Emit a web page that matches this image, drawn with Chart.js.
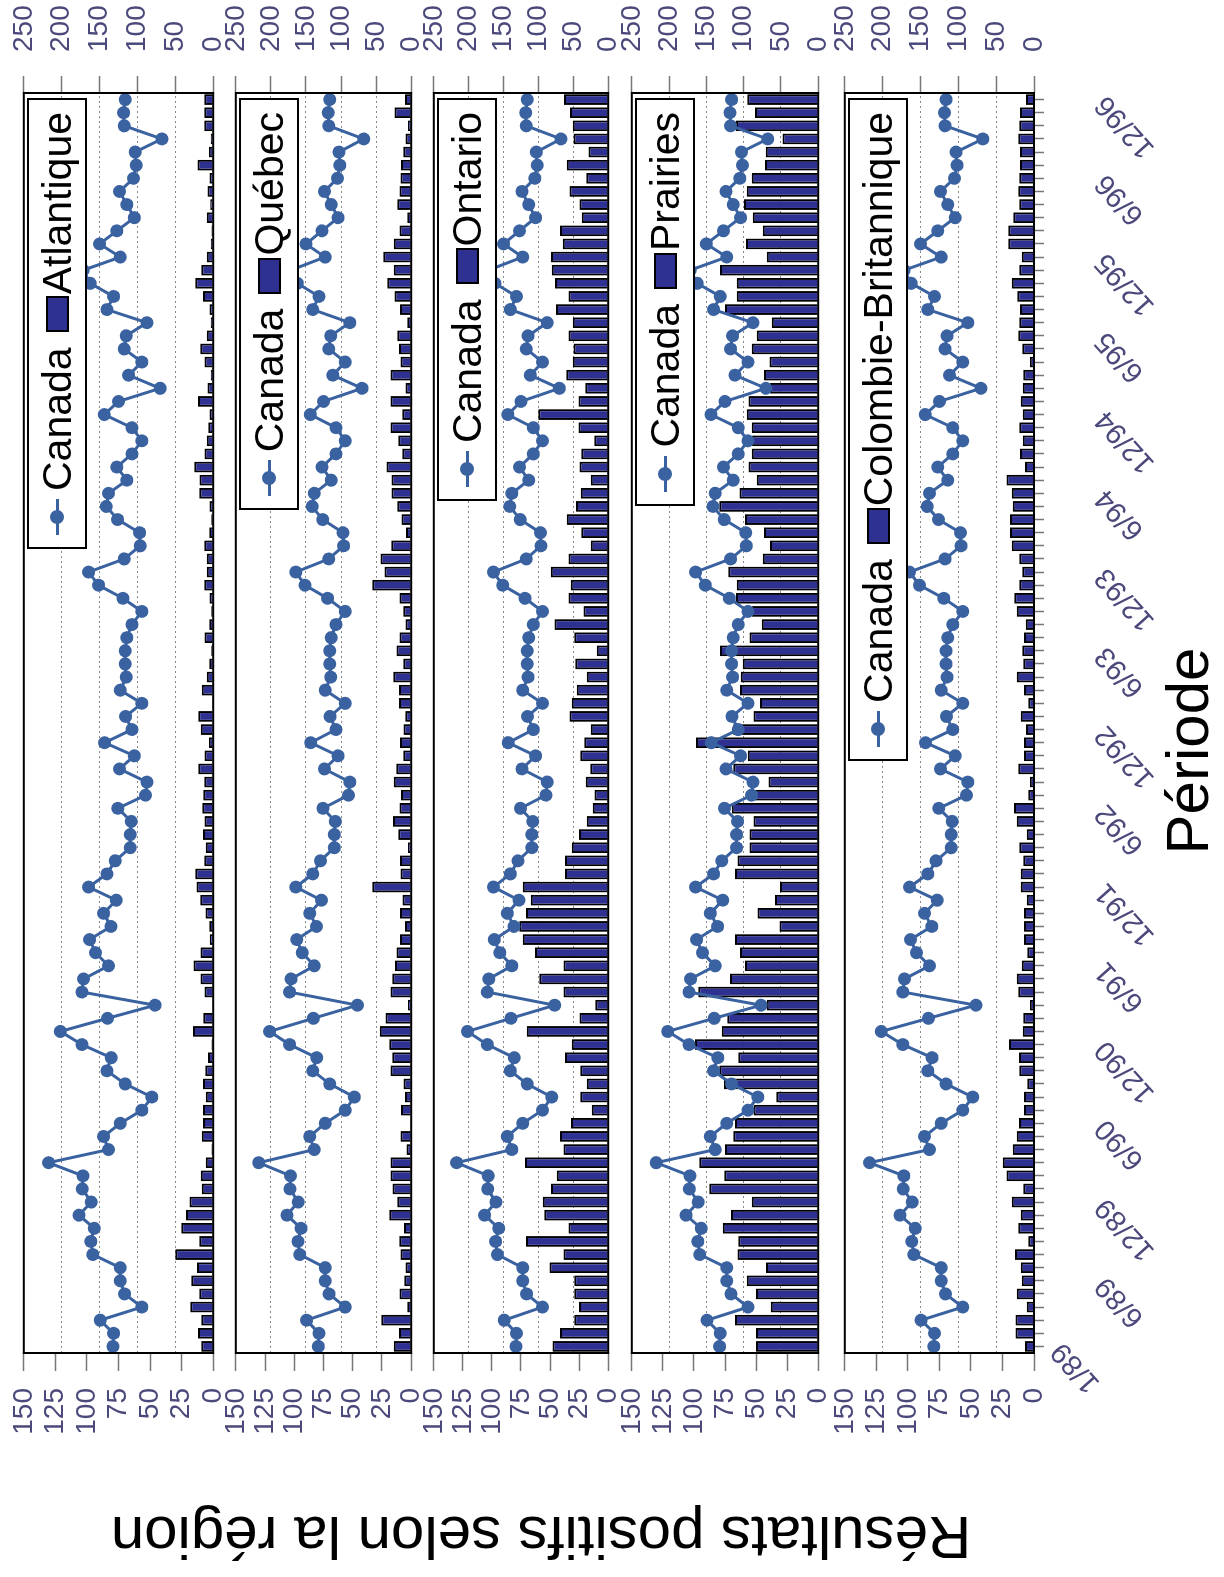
<!DOCTYPE html>
<html>
<head>
<meta charset="utf-8">
<script src="https://cdn.jsdelivr.net/npm/chart.js@4.4.0/dist/chart.umd.min.js"></script>
<style>
html, body { margin: 0; padding: 0; width: 1224px; height: 1577px; overflow: hidden; background: #fff; }
/* the chart is built landscape and turned a quarter turn to the left */
#page { position: absolute; left: 0; top: 0; width: 1577px; height: 1224px;
        transform-origin: 0 0; transform: translateY(1577px) rotate(-90deg);
        font-family: "Liberation Sans", Arial, sans-serif; }
#page canvas { position: absolute; left: 0; }
.legend { position: absolute; right: 98px; height: 56px; border: 2px solid #000; background: #fff;
          display: flex; align-items: center; padding: 0 12px; font-size: 41px; white-space: nowrap; }
.sym { position: relative; display: inline-block; width: 36px; height: 14px; margin-right: 8px; }
.sym:before { content: ""; position: absolute; left: 0; right: 0; top: 5.5px; height: 3px; background: #3a62a0; }
.sym:after { content: ""; position: absolute; left: 11px; top: 0; width: 14px; height: 14px; border-radius: 50%; background: #3a62a0; }
.sq { display: inline-block; width: 32px; height: 19px; background: #2e3192; border: 2px solid #000; margin-left: 15px; margin-right: 2px; }
.title { position: absolute; font-size: 60px; line-height: 1; white-space: nowrap; color: #000; }
</style>
</head>
<body>
<div id="page">
  <div class="title" style="left:40px; top:541px; transform: translate(-50%, -50%) rotate(-90deg);">Résultats positifs selon la région</div>
  <div class="title" style="left:826px; top:1188px; transform: translate(-50%, -50%);">Période</div>
</div>
<script>
// mois (catégories)
var months = [
  '1/89','2/89','3/89','4/89','5/89','6/89','7/89','8/89','9/89','10/89','11/89','12/89',
  '1/90','2/90','3/90','4/90','5/90','6/90','7/90','8/90','9/90','10/90','11/90','12/90',
  '1/91','2/91','3/91','4/91','5/91','6/91','7/91','8/91','9/91','10/91','11/91','12/91',
  '1/92','2/92','3/92','4/92','5/92','6/92','7/92','8/92','9/92','10/92','11/92','12/92',
  '1/93','2/93','3/93','4/93','5/93','6/93','7/93','8/93','9/93','10/93','11/93','12/93',
  '1/94','2/94','3/94','4/94','5/94','6/94','7/94','8/94','9/94','10/94','11/94','12/94',
  '1/95','2/95','3/95','4/95','5/95','6/95','7/95','8/95','9/95','10/95','11/95','12/95',
  '1/96','2/96','3/96','4/96','5/96','6/96','7/96','8/96','9/96','10/96','11/96','12/96'
];
// étiquettes affichées sur l'axe du temps
var timeTicks = ['1/89','6/89','12/89','6/90','12/90','6/91','12/91','6/92','12/92',
                 '6/93','12/93','6/94','12/94','6/95','12/95','6/96','12/96'];
var leftTicks = [0, 25, 50, 75, 100, 125, 150];
var rightTicks = [0, 50, 100, 150, 200, 250];

// Canada (ligne, axe 0-150)
var canada = [
  79.4, 78.9, 89.5, 56.5, 70.2, 73.6, 73.6, 95.3, 96.9, 94.2, 106.3, 96.6,
  103.7, 103.2, 130.4, 82.9, 86.8, 73.6, 56.5, 48.6, 69.7, 84.2, 80.8, 104,
  121.1, 83.7, 46, 104, 102.7, 82.9, 93.2, 97.9, 81, 86.8, 76.8, 98.7,
  84.2, 77.6, 65.7, 65.7, 64.9, 75.5, 53.6, 52.5, 74.2, 62.5, 86, 64.4,
  69.4, 56.5, 73.6, 68.9, 69.7, 69.7, 68.4, 64.4, 56.5, 71.5, 90.8, 98.7,
  70.5, 57.8, 58.3, 75.7, 84.7, 82.9, 68.4, 76.3, 64.4, 56.5, 64.4, 86.3,
  75, 42, 67, 56.5, 70.5, 68.9, 52.5, 84.2, 78.9, 97.4, 103, 73.6,
  90, 76.3, 62.5, 68.4, 74.2, 63.1, 61, 61.8, 40.6, 70.5, 71, 69.7
];
// régions (barres, axe 0-250)
var atlantique = [
  15.8, 20.2, 15.8, 30.3, 18.5, 29, 21.5, 50.1, 18.5, 42.2, 36, 31.2,
  15, 16.3, 9.7, 2.2, 15, 13.6, 13.6, 9.7, 13.6, 10.6, 7, 2.2,
  26.8, 13.2, 0.9, 11.4, 16.7, 26, 16.7, 4.4, 5.3, 10.1, 17.2, 22,
  23.7, 11.9, 9.7, 13.6, 11.4, 14.5, 13.2, 11.9, 19.8, 11.4, 5.7, 16.3,
  19.8, 1.3, 15, 8.4, 5.3, 2.6, 11.4, 5.3, 2.6, 4.8, 11.9, 8.4,
  8.4, 11.9, 5.3, 2.6, 4.8, 18.5, 18, 25, 11.4, 8.4, 6.6, 4.8,
  20.2, 7.5, 3.1, 11.4, 17.2, 8.4, 3.1, 4.8, 13.6, 23.7, 15.8, 8.4,
  3.1, 2.2, 8.4, 4, 7.5, 4.8, 20.7, 5.7, 3.1, 11.9, 11.9, 11.9
];
var quebec = [
  24.7, 17.5, 42.8, 5.6, 16.6, 9.9, 8, 15.1, 17, 10.4, 31.3, 19.9,
  26.6, 29.4, 29.4, 6.6, 15.1, 1, 14.7, 8.9, 10.9, 29.4, 27, 31.3,
  44.7, 36.6, 4.7, 29.4, 27, 23.2, 20.9, 16.1, 8.9, 16.1, 12.3, 55.6,
  15.1, 16.1, 4.7, 18.5, 26.1, 16.6, 14.7, 24.7, 21.3, 11.3, 16.1, 10.9,
  8.5, 17.5, 17.5, 25.6, 11.3, 20.9, 16.6, 8, 11.3, 16.6, 55.6, 38,
  43.7, 28.5, 7.5, 13.7, 19.9, 28, 28, 35.1, 12.8, 18.5, 29.4, 12.8,
  29.4, 8, 29.4, 15.1, 17.5, 19.9, 5.6, 16.1, 23.7, 34.2, 24.7, 39.9,
  24.7, 16.6, 5.6, 19.9, 16.6, 15.1, 14.7, 11.3, 8, 4.7, 23.7, 8.9
];
var ontario = [
  80, 69, 48.8, 41.7, 48.8, 48.8, 84.3, 64.2, 117.8, 57, 91.5, 93.9,
  81.9, 73.8, 119.2, 64.2, 69, 53.2, 23.5, 40.2, 30.6, 40.2, 61.8, 52.2,
  116.9, 41.2, 18.7, 64.2, 98.7, 64.2, 104.9, 122.6, 127.4, 117.8, 111.1, 122.6,
  61.8, 61.8, 52.2, 41.7, 30.6, 22, 19.6, 32.1, 25.9, 40.2, 34.5, 24.9,
  55.6, 52.2, 45, 30.6, 47.4, 16.3, 48.8, 77.1, 35.4, 57, 53.6, 82.4,
  57, 24.9, 38.8, 59.4, 46, 39.3, 24.9, 41.2, 38.8, 20.1, 42.6, 100.1,
  42.6, 33, 60.3, 50.8, 49.8, 57, 50.8, 74.7, 57, 76.1, 80.9, 81.9,
  65.1, 69, 37.8, 41.2, 55.6, 31.6, 59.4, 28.3, 49.8, 50.8, 54.6, 63.2
];
var prairies = [
  83.3, 83.3, 111.6, 63.6, 83.3, 95.9, 69.9, 108.4, 107.1, 128.1, 116.9, 89.2,
  146, 125.9, 159.5, 125, 113.8, 111.6, 86.9, 56.4, 126.3, 132.6, 107.1, 165.3,
  129.5, 121.9, 69, 160.8, 118.3, 98.1, 104.8, 111.6, 52, 81.5, 57.8, 51.1,
  111.6, 108.4, 92.3, 92.3, 86.9, 116, 84.7, 66.8, 113.8, 94.5, 164, 113.8,
  86.9, 78, 104.8, 103.9, 101.2, 131.7, 92.3, 75.7, 89.2, 110.2, 109.3, 120.5,
  74.4, 64.5, 72.6, 98.1, 132.6, 105.7, 82.4, 93.6, 89.2, 89.2, 89.2, 95.9,
  93.6, 64.5, 72.6, 65.4, 89.2, 82.4, 62.3, 125, 109.3, 109.3, 131.7, 69,
  96.8, 74.4, 87.8, 99.5, 95.9, 89.2, 71.2, 70.3, 47.9, 110.2, 84.7, 95
];
var colombie = [
  11.9, 24.3, 24.3, 9.7, 22.9, 16.3, 17.6, 25.1, 7.5, 20.7, 17.6, 29.5,
  14.1, 36.2, 41.4, 28.2, 22.9, 19.8, 13.2, 13.2, 8.8, 19.4, 19.8, 33.1,
  15, 14.1, 5.3, 20.7, 22.9, 16.3, 8.8, 13.2, 13.2, 13.2, 9.7, 17.6,
  17.6, 14.1, 19.4, 9.7, 22.9, 26.5, 7.5, 5.3, 20.7, 13.2, 13.2, 10.6,
  17.6, 7.5, 13.2, 22.9, 14.1, 15.4, 13.2, 11, 22.9, 26, 19.4, 15.4,
  19.4, 29.5, 31.7, 31.7, 28.2, 29.5, 36.2, 11.9, 18.5, 15, 19.4, 15,
  17.6, 15, 14.1, 5.3, 15.4, 20.7, 19.4, 18.5, 22, 29.5, 19.4, 16.3,
  33.9, 33.9, 27.3, 19.4, 20.7, 19.4, 18.5, 18.5, 20.7, 19.4, 18.5, 10.6
];

var regionNames = ['Atlantique', 'Québec', 'Ontario', 'Prairies', 'Colombie-Britannique'];
var regionData = [atlantique, quebec, ontario, prairies, colombie];

// bandes verticales (avant rotation) de chaque panneau : haut et bas de la zone du graphique
var panelTop = [24, 236, 434, 632, 845];
var panelBottom = [213, 411, 608, 818, 1034];
var tickColor = '#4b497b';

var page = document.getElementById('page');

// cadre noir autour de la zone du graphique
var frame = {
  id: 'frame',
  afterDraw: function (chart) {
    var a = chart.chartArea, ctx = chart.ctx;
    ctx.save();
    ctx.strokeStyle = '#000';
    ctx.lineWidth = 2;
    ctx.strokeRect(a.left, a.top, a.right - a.left, a.bottom - a.top);
    ctx.restore();
  }
};

// la première étiquette du temps est posée plus près de l'axe que les autres
var firstLabel = {
  id: 'firstLabel',
  beforeDraw: function (chart) {
    var sc = chart.scales.x;
    if (!sc || !sc.options.display || !sc.getLabelItems) return;
    sc.getLabelItems(chart.chartArea).forEach(function (it) {
      if (it.label === timeTicks[0] && !it.moved && it.options && it.options.translation) {
        it.options.translation[1] -= 44;
        it.moved = true;
      }
    });
  }
};

function makeChart(canvas, name, values, last) {
  return new Chart(canvas.getContext('2d'), {
    type: 'bar',
    data: {
      labels: months,
      datasets: [{
        type: 'line',
        label: 'Canada',
        data: canada,
        yAxisID: 'yL',
        borderColor: '#3a62a0',
        backgroundColor: '#3a62a0',
        borderWidth: 3,
        pointRadius: 6.5,
        pointBorderWidth: 0,
        pointBackgroundColor: '#3a62a0',
        order: 0
      }, {
        label: name,
        data: values,
        yAxisID: 'yR',
        backgroundColor: '#2e3192',
        borderColor: '#000',
        borderWidth: 2,
        categoryPercentage: 1,
        barPercentage: 0.82,
        order: 1
      }]
    },
    options: {
      responsive: false,
      maintainAspectRatio: false,
      animation: false,
      layout: { padding: { top: 20, bottom: last ? 0 : 20, left: 0, right: 0 } },
      plugins: { legend: { display: false }, tooltip: { enabled: false } },
      scales: {
        x: {
          display: last,
          offset: true,
          grid: { offset: false, drawOnChartArea: false, tickLength: 10, tickColor: '#777', tickWidth: 1.5 },
          border: { display: false },
          ticks: {
            autoSkip: false, minRotation: 42, maxRotation: 42, padding: 44,
            color: tickColor, font: { family: 'Liberation Sans', size: 29 },
            callback: function (v, idx) { return timeTicks.indexOf(months[idx]) >= 0 ? months[idx] : ''; }
          },
          afterFit: function (scale) { scale.height = last ? 190 : 0; }
        },
        yL: {
          position: 'left',
          min: 0, max: 150,
          afterBuildTicks: function (scale) { scale.ticks = leftTicks.map(function (v) { return { value: v }; }); },
          grid: { drawOnChartArea: false, tickLength: 18, tickColor: '#777', tickWidth: 1.5 },
          border: { display: false },
          ticks: { autoSkip: false, padding: 17, color: tickColor, font: { family: 'Liberation Sans', size: 28 } },
          afterFit: function (scale) { scale.width = 224; }
        },
        yR: {
          position: 'right',
          min: 0, max: 250,
          afterBuildTicks: function (scale) { scale.ticks = rightTicks.map(function (v) { return { value: v }; }); },
          grid: { color: '#888', lineWidth: 1, tickLength: 17, tickColor: '#777', tickWidth: 1.5 },
          border: { display: false, dash: [2, 3] },
          ticks: { autoSkip: false, padding: 24, color: tickColor, font: { family: 'Liberation Sans', size: 28 } },
          afterFit: function (scale) { scale.width = 1577 - 1484; }
        }
      }
    },
    plugins: [frame, firstLabel]
  });
}

regionNames.forEach(function (name, i) {
  var last = (i === regionNames.length - 1);
  var canvas = document.createElement('canvas');
  canvas.width = 1577;
  canvas.height = 400;
  page.appendChild(canvas);

  // premier passage : mesurer les marges que Chart.js garde autour de la zone du graphique
  var chart = makeChart(canvas, name, regionData[i], last);
  var above = chart.chartArea.top;
  var below = canvas.height - chart.chartArea.bottom;
  chart.destroy();

  // second passage : toile à la bonne taille, placée pour que la zone tombe sur le panneau
  canvas.width = 1577;
  canvas.height = Math.round(panelBottom[i] - panelTop[i] + above + below);
  canvas.style.top = (panelTop[i] - above) + 'px';
  makeChart(canvas, name, regionData[i], last);

  // légende dans le coin du panneau
  var lg = document.createElement('div');
  lg.className = 'legend';
  lg.style.top = (panelTop[i] + 3) + 'px';
  lg.innerHTML = '<span class="sym"></span>Canada<span class="sq"></span>' + name;
  page.appendChild(lg);
});
</script>
</body>
</html>
